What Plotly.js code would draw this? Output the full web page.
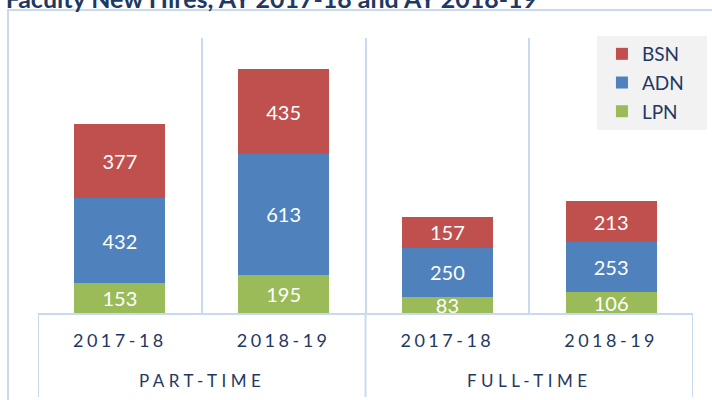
<!DOCTYPE html>
<html><head><meta charset="utf-8">
<script src="https://cdn.plot.ly/plotly-3.0.1.min.js"></script>
<style>
html,body{margin:0;padding:0;background:#fff;}
#chart{width:712px;height:400px;}
.xtick text{letter-spacing:3.5px;}
.annotation-text{letter-spacing:4.5px;}
</style></head><body><div id="chart"></div>
<script>
const chartTitle = 'Faculty New Hires, AY 2017-18 and AY 2018-19';
const groups = ['PART-TIME', 'PART-TIME', 'FULL-TIME', 'FULL-TIME'];
const years = ['2017-18', '2018-19', '2017-18', '2018-19'];
const lpn = [153, 195, 83, 106];
const adn = [432, 613, 250, 253];
const bsn = [377, 435, 157, 213];

const navy = '#1F3864';
const gridBlue = '#C9D9EE';
const font = 'Lato, "Open Sans", sans-serif';
const xIdx = years.map((_, i) => i);

function barTrace(name, vals, color, rank) {
  return {
    type: 'bar', name: name, x: xIdx, y: vals,
    marker: {color: color, line: {width: 0}},
    texttemplate: '%{y}', textposition: 'inside', insidetextanchor: 'middle',
    constraintext: 'none', textangle: 0,
    textfont: {family: font, size: 20, color: '#FFFFFF'},
    hoverinfo: 'skip', legendgroup: name, legendrank: rank
  };
}
const data = [
  barTrace('LPN', lpn, '#9BBB59', 3),
  barTrace('ADN', adn, '#4F81BD', 2),
  barTrace('BSN', bsn, '#C0504D', 1)
];

// group label positions and divider boundaries from the groups array
const uniq = [...new Set(groups)];
const groupAnn = uniq.map(g => {
  const idx = xIdx.filter(i => groups[i] === g);
  return {
    x: (idx[0] + idx[idx.length - 1]) / 2, xref: 'x', y: -0.247, yref: 'paper',
    text: g, showarrow: false, xanchor: 'center', yanchor: 'middle',
    font: {family: font, size: 17, color: navy}
  };
});
const bounds = [-0.5];
for (let i = 1; i < groups.length; i++) if (groups[i] !== groups[i - 1]) bounds.push(i - 0.5);
bounds.push(groups.length - 0.5);

const shapes = bounds.map(b => ({
  type: 'line', xref: 'x', yref: 'paper', x0: b, x1: b, y0: 0, y1: -0.305,
  line: {color: gridBlue, width: 2}, layer: 'below'
}));
// outer chart frame
shapes.push({type: 'rect', xref: 'paper', yref: 'paper', x0: -0.0458, x1: 2, y0: -2, y1: 1.1018,
  line: {color: gridBlue, width: 2}, fillcolor: 'rgba(0,0,0,0)', layer: 'below'});
// legend panel background
shapes.push({type: 'rect', xref: 'paper', yref: 'paper', x0: 0.8534, x1: 1.0214, y0: 0.6655, y1: 1.0073,
  line: {width: 0}, fillcolor: '#F2F2F2', layer: 'above'});

const minorVals = [];
for (let i = 0; i <= years.length; i++) minorVals.push(i - 0.5);

const layout = {
  width: 712, height: 400,
  margin: {l: 38, r: 19, t: 38, b: 87},
  paper_bgcolor: '#FFFFFF', plot_bgcolor: '#FFFFFF',
  barmode: 'stack', bargap: 0.444,
  showlegend: true,
  title: {
    text: '<b>' + chartTitle + '</b>',
    font: {family: font, size: 25, color: navy},
    x: 0.008, xref: 'container', xanchor: 'left',
    y: 1, yref: 'paper', yanchor: 'bottom', pad: {b: 30}
  },
  xaxis: {
    type: 'linear', range: [-0.5, years.length - 0.5], fixedrange: true,
    tickmode: 'array', tickvals: xIdx, ticktext: years,
    ticks: '', showgrid: false, zeroline: false,
    showline: true, linecolor: gridBlue, linewidth: 2,
    tickfont: {family: font, size: 18, color: navy},
    ticklabelstandoff: 10,
    minor: {tickmode: 'array', tickvals: minorVals, showgrid: true, gridcolor: gridBlue, gridwidth: 2, ticks: ''}
  },
  yaxis: {
    range: [0, 1400], visible: false, showgrid: false, zeroline: false, fixedrange: true
  },
  legend: {
    x: 0.861, xanchor: 'left', y: 1.011, yanchor: 'top',
    traceorder: 'grouped', tracegroupgap: 1,
    bgcolor: 'rgba(0,0,0,0)', borderwidth: 0,
    font: {family: font, size: 19, color: navy}
  },
  annotations: groupAnn,
  shapes: shapes
};

Plotly.newPlot('chart', data, layout, {displayModeBar: false, staticPlot: true});
</script></body></html>
